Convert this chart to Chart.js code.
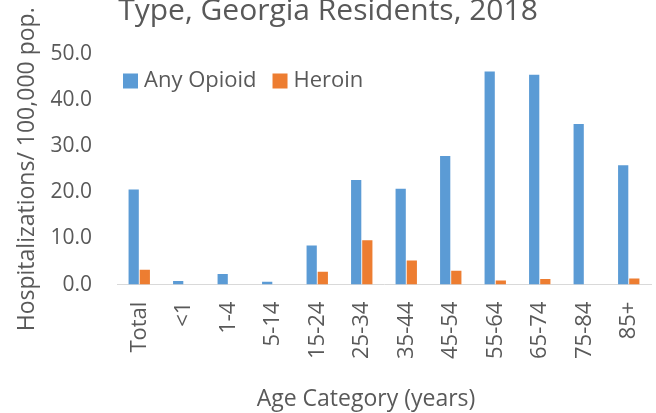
<!DOCTYPE html>
<html>
<head>
<meta charset="utf-8">
<script src="https://cdn.jsdelivr.net/npm/chart.js@4.4.1/dist/chart.umd.min.js"></script>
<style>
  html, body { margin: 0; padding: 0; background: #fff; }
  #wrap { width: 656px; height: 413px; position: relative; }
</style>
</head>
<body>
<div id="wrap"><canvas id="chart"></canvas></div>
<script>
// Data
const categories = ['Total', '<1', '1-4', '5-14', '15-24', '25-34', '35-44', '45-54', '55-64', '65-74', '75-84', '85+'];
const anyOpioid = [20.6, 0.8, 2.3, 0.6, 8.5, 22.7, 20.8, 27.9, 46.2, 45.5, 34.8, 25.9];
const heroin = [3.2, 0, 0, 0, 2.8, 9.6, 5.2, 3.0, 0.9, 1.2, 0, 1.3];
const yTicks = [0, 10, 20, 30, 40, 50];

const titleText = 'Type, Georgia Residents, 2018';
const xTitleText = 'Age Category (years)';
const yTitleText = 'Hospitalizations/ 100,000 pop.';
const textColor = '#595959';
const fontFamily = '"Open Sans", "Noto Sans", sans-serif';

// Title (cut off at the top), x axis title and legend drawn by hand
const extras = {
    id: 'extras',
    afterDraw(chart) {
        const ctx = chart.ctx;
        const area = chart.chartArea;
        ctx.save();
        ctx.fillStyle = textColor;

        ctx.font = '30px ' + fontFamily;
        ctx.textAlign = 'center';
        ctx.textBaseline = 'alphabetic';
        ctx.fillText(titleText, chart.width / 2, 20);

        ctx.font = '23px ' + fontFamily;
        ctx.textBaseline = 'middle';
        ctx.fillText(xTitleText, 366, 399);

        // legend, top-left inside the plot
        ctx.font = '22px ' + fontFamily;
        ctx.textAlign = 'left';
        let x = area.left + 6;
        const y = area.top + 27;
        chart.data.datasets.forEach(ds => {
            ctx.fillStyle = ds.backgroundColor;
            ctx.fillRect(x, y - 7.5, 15, 15);
            ctx.fillStyle = textColor;
            ctx.fillText(ds.label, x + 21, y);
            x += 21 + ctx.measureText(ds.label).width + 16;
        });
        ctx.restore();
    }
};

new Chart(document.getElementById('chart'), {
    type: 'bar',
    data: {
        labels: categories,
        datasets: [
            {
                label: 'Any Opioid',
                data: anyOpioid,
                backgroundColor: '#5B9BD5',
                categoryPercentage: 0.5,
                barPercentage: 0.92
            },
            {
                label: 'Heroin',
                data: heroin,
                backgroundColor: '#ED7D31',
                categoryPercentage: 0.5,
                barPercentage: 0.92
            }
        ]
    },
    options: {
        responsive: true,
        maintainAspectRatio: false,
        animation: false,
        layout: {
            padding: { top: 54, right: 5, bottom: 37, left: 14 }
        },
        plugins: {
            legend: { display: false },
            tooltip: { enabled: false }
        },
        scales: {
            x: {
                grid: { display: false, drawTicks: false },
                border: { display: true, color: '#D9D9D9', width: 1 },
                ticks: {
                    color: textColor,
                    font: { family: fontFamily, size: 22 },
                    minRotation: 90,
                    maxRotation: 90,
                    autoSkip: false,
                    padding: 17
                },
                afterFit(scale) {
                    scale.paddingLeft = 0;
                    scale.paddingRight = 0;
                }
            },
            y: {
                min: yTicks[0],
                max: yTicks[yTicks.length - 1],
                grid: { display: false, drawTicks: false },
                border: { display: false },
                afterBuildTicks(axis) {
                    axis.ticks = yTicks.map(v => ({ value: v }));
                },
                afterFit(scale) {
                    scale.width = 103;
                },
                ticks: {
                    color: textColor,
                    font: { family: fontFamily, size: 21 },
                    padding: 25,
                    callback: v => Number(v).toFixed(1)
                },
                title: {
                    display: true,
                    text: yTitleText,
                    color: textColor,
                    font: { family: fontFamily, size: 23 },
                    padding: 0
                }
            }
        }
    },
    plugins: [extras]
});
</script>
</body>
</html>
